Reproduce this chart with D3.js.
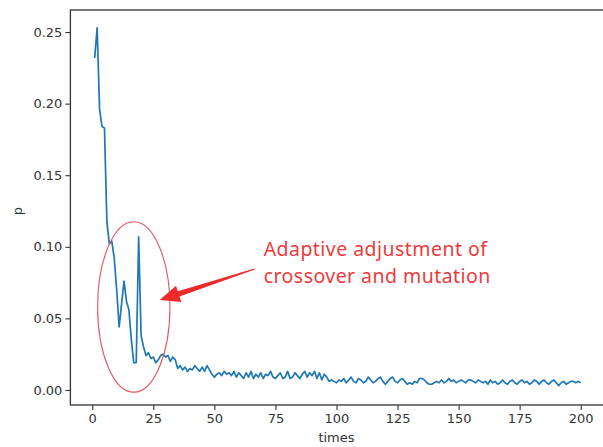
<!DOCTYPE html>
<html>
<head>
<meta charset="utf-8">
<script src="https://cdn.jsdelivr.net/npm/d3@7"></script>
<style>
  body { margin: 0; background: #fff; }
  svg { display: block; }
</style>
</head>
<body>
<svg id="chart"></svg>
<script>
const width = 603;
const height = 447;

// p value for every iteration, times = 1..200
const pValues = [
  0.232, 0.253, 0.196, 0.184, 0.183, 0.117, 0.102, 0.104, 0.092, 0.070,
  0.044, 0.060, 0.076, 0.062, 0.056, 0.035, 0.019, 0.019, 0.107, 0.038,
  0.030, 0.024, 0.026, 0.022, 0.023, 0.019, 0.021, 0.024, 0.025, 0.023,
  0.024, 0.020, 0.023, 0.021, 0.015, 0.017, 0.014, 0.016, 0.013, 0.015,
  0.014, 0.017, 0.015, 0.013, 0.016, 0.013, 0.017, 0.014, 0.011, 0.009,
  0.011, 0.012, 0.010, 0.013, 0.011, 0.012, 0.010, 0.013, 0.009, 0.012,
  0.010, 0.008, 0.012, 0.009, 0.013, 0.008, 0.011, 0.009, 0.012, 0.008,
  0.011, 0.010, 0.013, 0.009, 0.008, 0.010, 0.012, 0.008, 0.009, 0.013,
  0.008, 0.009, 0.012, 0.010, 0.008, 0.011, 0.013, 0.009, 0.012, 0.010,
  0.013, 0.008, 0.012, 0.007, 0.011, 0.009, 0.006, 0.007, 0.006, 0.005,
  0.007, 0.006, 0.008, 0.005, 0.007, 0.009, 0.006, 0.005, 0.008, 0.007,
  0.005, 0.006, 0.009, 0.007, 0.005, 0.006, 0.008, 0.009, 0.006, 0.004,
  0.006, 0.008, 0.009, 0.006, 0.005, 0.007, 0.008, 0.006, 0.004, 0.005,
  0.004, 0.006, 0.005, 0.008, 0.008, 0.007, 0.005, 0.004, 0.004, 0.005,
  0.006, 0.005, 0.007, 0.005, 0.006, 0.008, 0.006, 0.007, 0.005, 0.006,
  0.007, 0.006, 0.005, 0.007, 0.007, 0.006, 0.005, 0.007, 0.006, 0.005,
  0.006, 0.004, 0.007, 0.005, 0.006, 0.004, 0.005, 0.007, 0.005, 0.004,
  0.006, 0.007, 0.005, 0.004, 0.006, 0.007, 0.005, 0.006, 0.004, 0.005,
  0.007, 0.006, 0.004, 0.006, 0.007, 0.005, 0.004, 0.006, 0.007, 0.005,
  0.003, 0.005, 0.006, 0.004, 0.005, 0.006, 0.006, 0.005, 0.006, 0.005
];
const xTicks = [0, 25, 50, 75, 100, 125, 150, 175, 200];
const yTicks = [0.00, 0.05, 0.10, 0.15, 0.20, 0.25];
const annotationLines = ["Adaptive adjustment of", "crossover and mutation"];

const data = pValues.map((p, i) => ({ t: i + 1, p: p }));

const svg = d3.select('#chart')
  .attr('width', width)
  .attr('height', height);

// axes box: left 70, top 10, bottom 405 (right spine falls just off the picture)
const x = d3.scaleLinear().domain([-8.95, 209.95]).range([70.4, 605]);
const y = d3.scaleLinear().domain([-0.0105, 0.2654]).range([405, 10]);

const tickFont = "'DejaVu Sans', sans-serif";

// y axis
const yAxis = svg.append('g')
  .attr('transform', `translate(${x.range()[0]},0)`)
  .call(d3.axisLeft(y).tickValues(yTicks).tickFormat(d3.format('.2f')).tickSize(5).tickPadding(3));
// x axis
const xAxis = svg.append('g')
  .attr('transform', `translate(0,${y.range()[0]})`)
  .call(d3.axisBottom(x).tickValues(xTicks).tickFormat(d3.format('d')).tickSize(5).tickPadding(4));

[xAxis, yAxis].forEach(ax => {
  ax.select('.domain').remove();
  ax.selectAll('line').attr('stroke', '#333').attr('stroke-width', 1.1);
  ax.selectAll('text')
    .attr('fill', '#333')
    .style('font-family', tickFont)
    .style('font-size', '13px');
});

// frame
svg.append('rect')
  .attr('x', x.range()[0])
  .attr('y', y.range()[1])
  .attr('width', x.range()[1] - x.range()[0])
  .attr('height', y.range()[0] - y.range()[1])
  .attr('fill', 'none')
  .attr('stroke', '#333')
  .attr('stroke-width', 1.3);

// axis labels
svg.append('text')
  .attr('x', (x(0) + x(200)) / 2)
  .attr('y', 442)
  .attr('text-anchor', 'middle')
  .attr('fill', '#333')
  .style('font-family', tickFont)
  .style('font-size', '13px')
  .text('times');

svg.append('text')
  .attr('transform', `translate(22,${y(0.125)}) rotate(-90)`)
  .attr('text-anchor', 'middle')
  .attr('fill', '#333')
  .style('font-family', tickFont)
  .style('font-size', '13px')
  .text('p');

// the curve
const line = d3.line()
  .x(d => x(d.t))
  .y(d => y(d.p));

svg.append('path')
  .datum(data)
  .attr('d', line)
  .attr('fill', 'none')
  .attr('stroke', '#1f77b4')
  .attr('stroke-width', 1.7)
  .attr('stroke-linejoin', 'round');

// red ellipse round the early iterations (placed in data units)
const ell = { t: 17, p: 0.058, rt: 14.8, rp: 0.0595 };
svg.append('ellipse')
  .attr('cx', x(ell.t))
  .attr('cy', y(ell.p))
  .attr('rx', x(ell.t + ell.rt) - x(ell.t))
  .attr('ry', y(ell.p) - y(ell.p + ell.rp))
  .attr('fill', 'none')
  .attr('stroke', '#e2575d')
  .attr('stroke-width', 1.1);

// arrow from the note to the ellipse
const tail = [x(66.5), y(0.0845)];
const tip = [x(27.6), y(0.0628)];
const dx = tip[0] - tail[0], dy = tip[1] - tail[1];
const len = Math.hypot(dx, dy);
const ux = dx / len, uy = dy / len;
const nx = -uy, ny = ux;
const headLen = 20, headHalf = 8.5, shaftHalf = 2.8, tailHalf = 0.5;
const base = [tip[0] - ux * headLen, tip[1] - uy * headLen];
const pt = (p, k) => [p[0] + nx * k, p[1] + ny * k];
const arrowPts = [
  pt(tail, tailHalf), pt(base, shaftHalf), pt(base, headHalf), tip,
  pt(base, -headHalf), pt(base, -shaftHalf), pt(tail, -tailHalf)
];
svg.append('polygon')
  .attr('points', arrowPts.map(p => p.join(',')).join(' '))
  .attr('fill', '#ee2a2a');

// note text
svg.append('g')
  .selectAll('text')
  .data(annotationLines)
  .enter()
  .append('text')
  .attr('x', x(70.2))
  .attr('y', (d, i) => y(0.0932) - 1 + i * 27)
  .attr('fill', '#ef3b3b')
  .style('font-family', "'Noto Sans', sans-serif")
  .style('font-size', '19.5px')
  .style('letter-spacing', '0.45px')
  .text(d => d);
</script>
</body>
</html>
